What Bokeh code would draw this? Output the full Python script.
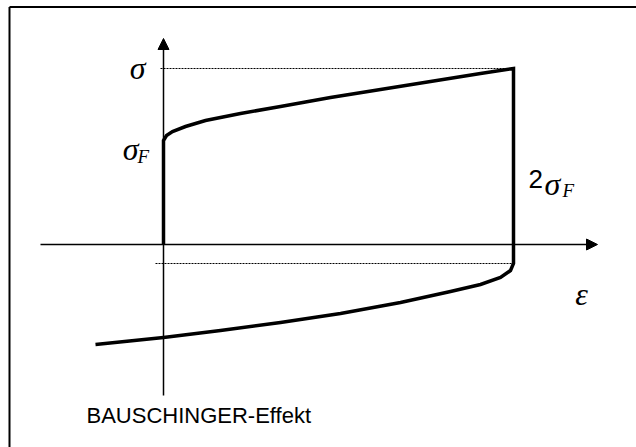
from bokeh.plotting import figure
from bokeh.models import Range1d, Arrow, NormalHead
from bokeh.core.properties import value
from bokeh.embed import file_html
from bokeh.resources import INLINE

# Strain / stress of the loading branch (origin at the axis crossing)
eps_load = [0, 3, 9, 22, 42, 77, 117, 167, 217, 267, 317, 350]
sig_load = [104, 109, 113, 118, 124, 131, 138, 147, 155, 163, 171, 176]

# Reverse-loading branch, from the unloading point back to negative strain
eps_reverse = [350, 347, 337, 317, 287, 237, 177, 117, 57, 0, -68]
sig_reverse = [-19, -26, -33, -40, -47, -58, -69, -78, -86, -93, -100]

sigma_F = 104      # initial yield stress
sigma_max = 176    # stress reached at the end of loading
sigma_rev = -19    # stress where reverse yielding starts
eps_max = 350

W, H = 636, 447
X0, Y0 = 163, 244  # pixel position of the origin

p = figure(width=W, height=H, output_backend="svg", toolbar_location=None,
           x_range=Range1d(-X0, W - X0), y_range=Range1d(Y0 - H, Y0),
           min_border=0)
p.axis.visible = False
p.grid.visible = False
p.outline_line_color = None
p.background_fill_color = "white"

# frame lines (top and left)
p.line([-154, W - X0 + 5], [237.5, 237.5], line_color="black", line_width=2)
p.line([-154, -154], [237.5, Y0 - H - 5], line_color="black", line_width=2)

# coordinate axes with arrow heads
p.add_layout(Arrow(end=NormalHead(size=11, fill_color="black", line_color="black"),
                   x_start=0, y_start=-151, x_end=0, y_end=206,
                   line_color="black", line_width=1.5))
p.add_layout(Arrow(end=NormalHead(size=11, fill_color="black", line_color="black"),
                   x_start=-123, y_start=0, x_end=434, y_end=0,
                   line_color="black", line_width=1.5))

# dotted guide lines
p.line([-3, eps_max], [sigma_max, sigma_max], line_color="black",
       line_width=1, line_dash="2 1")
p.line([-8, eps_max], [sigma_rev, sigma_rev], line_color="black",
       line_width=1, line_dash="2 1")

# hysteresis path: elastic rise, hardening, unloading, reverse yielding
xs = [0] + eps_load + eps_reverse
ys = [0] + sig_load + sig_reverse
p.line(xs, ys, line_color="black", line_width=3.5, line_join="miter")

serif = value("Liberation Serif")
sans = value("Liberation Sans")

# sigma labels
p.text(x=[-18], y=[sigma_max + 1], text=["σ"], text_font=serif,
       text_font_style="italic", text_font_size="32px",
       text_align="right", text_baseline="middle")
p.text(x=[-25], y=[sigma_F - 8], text=["σ"], text_font=serif,
       text_font_style="italic", text_font_size="32px",
       text_align="right", text_baseline="middle")
p.text(x=[-26], y=[sigma_F - 16], text=["F"], text_font=serif,
       text_font_style="italic", text_font_size="19px",
       text_align="left", text_baseline="middle")

# 2 sigma_F label
p.text(x=[365], y=[66], text=["2"], text_font=sans,
       text_font_size="26px", text_align="left", text_baseline="middle")
p.text(x=[381], y=[61], text=["σ"], text_font=serif,
       text_font_style="italic", text_font_size="32px",
       text_align="left", text_baseline="middle")
p.text(x=[399], y=[54], text=["F"], text_font=serif,
       text_font_style="italic", text_font_size="19px",
       text_align="left", text_baseline="middle")

# strain label
p.text(x=[418], y=[-49], text=["ε"], text_font=serif,
       text_font_style="italic", text_font_size="32px",
       text_align="center", text_baseline="middle")

# caption
p.text(x=[-77], y=[-171], text=["BAUSCHINGER-Effekt"], text_font=sans,
       text_font_size="22px", text_align="left", text_baseline="middle")

open("out.html", "w").write(file_html(p, INLINE))
